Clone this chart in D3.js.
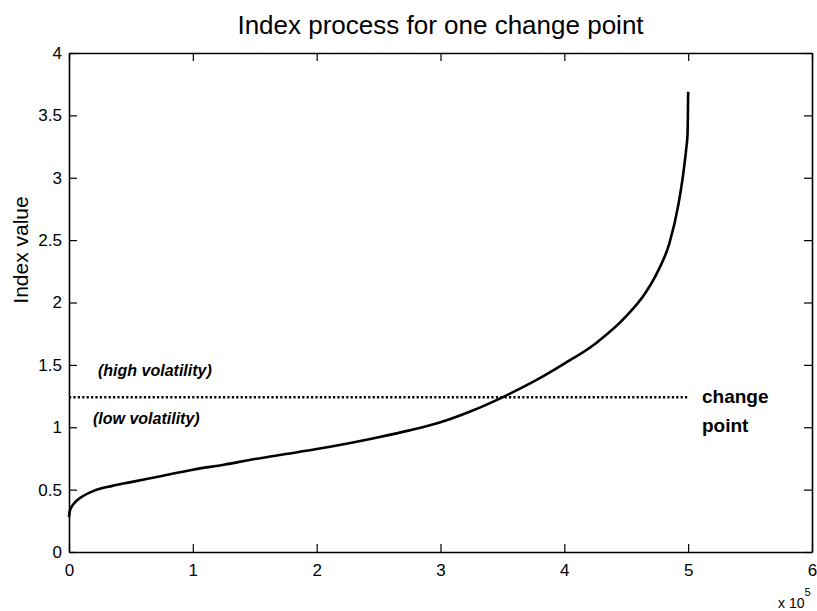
<!DOCTYPE html>
<html>
<head>
<meta charset="utf-8">
<script src="https://cdn.jsdelivr.net/npm/d3@7"></script>
<style>
  html, body { margin: 0; padding: 0; background: #fff; }
  svg { display: block; }
  text { font-family: "Liberation Sans", Arial, sans-serif; fill: #000; }
</style>
</head>
<body>
<svg id="chart" width="817" height="611"></svg>
<script>
// Index path (time step, index value)
const timeSteps = [0, 500, 2000, 5000, 10000, 20000, 35000, 50000, 75000, 100000,
  125000, 150000, 175000, 200000, 225000, 250000, 275000, 300000, 325000, 350000,
  375000, 400000, 425000, 450000, 465000, 475000, 485000, 492000, 496000, 498500,
  499500, 500000];
const indexValues = [0.28, 0.32, 0.36, 0.40, 0.44, 0.49, 0.53, 0.56, 0.61, 0.66,
  0.70, 0.745, 0.785, 0.825, 0.87, 0.92, 0.975, 1.04, 1.13, 1.24,
  1.365, 1.51, 1.67, 1.89, 2.07, 2.24, 2.48, 2.78, 3.03, 3.24,
  3.35, 3.69];

// Change-point threshold and its horizontal extent
const changeLevel = 1.24;
const changeSpan = [0, 500000];

// Axis ticks
const xTicks = [0, 100000, 200000, 300000, 400000, 500000, 600000];
const yTicks = [0, 0.5, 1, 1.5, 2, 2.5, 3, 3.5, 4];

const svg = d3.select("#chart");
const plotL = 69, plotR = 812, plotT = 53, plotB = 552;

const x = d3.scaleLinear().domain([0, 600000]).range([plotL, plotR]);
const y = d3.scaleLinear().domain([0, 4]).range([plotB, plotT]);

const tickLen = 8;
const fmtX = d => d3.format("d")(d / 100000);
const fmtY = d => d3.format("~g")(d);

// Bottom axis: inward ticks with labels
const gB = svg.append("g").attr("transform", `translate(0,${plotB})`)
  .call(d3.axisBottom(x).tickValues(xTicks).tickFormat(fmtX).tickSizeInner(-tickLen).tickSizeOuter(0).tickPadding(12));
// Top axis: inward ticks, no labels
const gT = svg.append("g").attr("transform", `translate(0,${plotT})`)
  .call(d3.axisTop(x).tickValues(xTicks).tickFormat("").tickSizeInner(-tickLen).tickSizeOuter(0));
// Left axis
const gL = svg.append("g").attr("transform", `translate(${plotL},0)`)
  .call(d3.axisLeft(y).tickValues(yTicks).tickFormat(fmtY).tickSizeInner(-tickLen).tickSizeOuter(0).tickPadding(14));
// Right axis
const gR = svg.append("g").attr("transform", `translate(${plotR},0)`)
  .call(d3.axisRight(y).tickValues(yTicks).tickFormat("").tickSizeInner(-tickLen).tickSizeOuter(0));

[gB, gT, gL, gR].forEach(g => {
  g.select(".domain").attr("stroke", "#000").attr("stroke-width", 1.6);
  g.selectAll(".tick line").attr("stroke", "#000").attr("stroke-width", 1.2);
  g.selectAll(".tick text").attr("font-size", 17).attr("font-family", "Liberation Sans, Arial, sans-serif").attr("fill", "#000");
});
gL.selectAll(".tick text").attr("dx", "7");

// Exponent note for x axis
const expo = svg.append("text").attr("x", 778).attr("y", 608).attr("font-size", 14);
expo.append("tspan").text("x 10");
expo.append("tspan").attr("dy", -12).attr("font-size", 11).text("5");

// Change-point dotted line
svg.append("line")
  .attr("x1", x(changeSpan[0])).attr("x2", x(changeSpan[1]))
  .attr("y1", y(changeLevel)).attr("y2", y(changeLevel))
  .attr("stroke", "#000").attr("stroke-width", 2.5)
  .attr("stroke-dasharray", "2.2,2.2");

// Index curve
const line = d3.line()
  .x((d, i) => x(timeSteps[i]))
  .y(d => y(d))
  .curve(d3.curveMonotoneX);
svg.append("path")
  .datum(indexValues)
  .attr("d", line)
  .attr("fill", "none")
  .attr("stroke", "#000")
  .attr("stroke-width", 2.6)
  .attr("stroke-linejoin", "round");

// Title
svg.append("text").attr("x", (plotL + plotR) / 2).attr("y", 34)
  .attr("text-anchor", "middle").attr("font-size", 26)
  .text("Index process for one change point");

// Y-axis label
svg.append("text")
  .attr("transform", `translate(28,250) rotate(-90)`)
  .attr("text-anchor", "middle").attr("font-size", 21)
  .text("Index value");

// Regime annotations
svg.append("text").attr("x", 98).attr("y", 376)
  .attr("font-size", 16).attr("font-weight", "bold").attr("font-style", "italic")
  .text("(high volatility)");
svg.append("text").attr("x", 93).attr("y", 424)
  .attr("font-size", 16).attr("font-weight", "bold").attr("font-style", "italic")
  .text("(low volatility)");

const cp = svg.append("text").attr("x", 702).attr("font-size", 19).attr("font-weight", "bold");
cp.append("tspan").attr("x", 702).attr("y", 403).text("change");
cp.append("tspan").attr("x", 702).attr("y", 432).text("point");
</script>
</body>
</html>
